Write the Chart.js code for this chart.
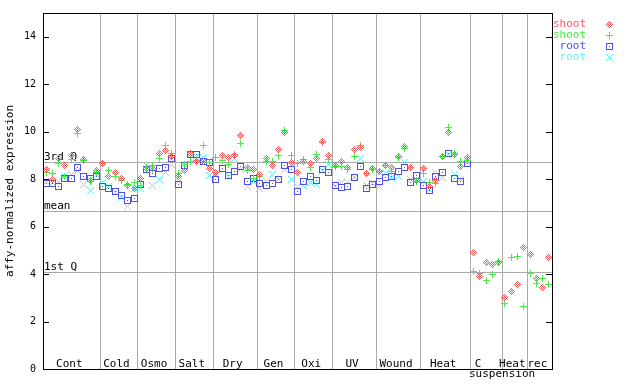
<!DOCTYPE html>
<html lang="en">
<head>
<meta charset="UTF-8">
<title>affy-normalized expression</title>
<script src="https://cdn.jsdelivr.net/npm/chart.js"></script>
<style>
  body { margin: 0; background: #ffffff; }
  #wrap { width: 640px; height: 384px; }
</style>
</head>
<body>
<div id="wrap"><canvas id="chart" width="640" height="384"></canvas></div>
<script>
// treatment groups and number of samples in each
const groups = ["Cont", "Cold", "Osmo", "Salt", "Dry", "Gen", "Oxi", "UV", "Wound", "Heat", "C", "Heat", "rec"];
const groupSizes = [9, 6, 6, 6, 7, 6, 6, 7, 7, 8, 5, 4, 4];

const shoot1 = [8.39, 7.99, 8.87, 8.59, 8.98, 10.11, 8.84, 7.95, 8.37,
  8.67, 8.13, 8.30, 8.02, 7.75, 7.61,
  8.02, 8.45, 8.45, 9.09, 9.22, 8.95,
  8.11, 8.37, 9.08, 8.75, 8.74, 8.45,
  8.28, 9.01, 8.91, 8.98, 9.85, 8.49, 8.39,
  8.20, 8.87, 8.59, 9.26, 9.97, 8.70,
  8.30, 8.75, 8.67, 8.87, 9.57, 9.01,
  8.59, 8.73, 8.49, 9.23, 9.33, 8.25, 8.45,
  8.32, 8.59, 8.49, 8.95, 9.37, 8.49, 7.96,
  8.45, 7.70, 7.95, 8.95, 9.97, 9.05, 8.53, 8.91,
  4.89, 3.88, 4.47, 4.40, 4.47,
  3.03, 3.26, 3.55, 5.10,
  4.82, 3.83, 3.45, 4.68];
const shoot2 = [8.30, 8.23, 8.67, 8.09, 8.81, 9.92, 8.80, 7.92, 8.28,
  8.67, 8.37, 8.13, 7.95, 7.78, 7.85,
  7.75, 8.50, 8.59, 8.87, 9.43, 9.08,
  8.23, 8.60, 8.73, 8.77, 9.43, 8.70,
  8.91, 8.80, 8.60, 9.05, 9.52, 8.37, 8.02,
  8.11, 8.73, 8.73, 9.01, 10.04, 9.01,
  8.67, 8.84, 8.49, 9.05, 9.54, 8.81,
  8.53, 8.53, 8.42, 8.95, 9.40, 8.25, 8.42,
  8.32, 8.56, 8.32, 8.90, 9.29, 8.49, 7.88,
  8.25, 7.85, 7.82, 8.95, 10.18, 9.08, 8.73, 8.80,
  4.12, 4.02, 3.73, 3.97, 4.51,
  2.78, 4.68, 4.72, 2.64,
  4.02, 3.62, 3.83, 3.55];
const root1 = [7.83, 7.83, 7.68, 8.02, 8.02, 8.47, 8.11, 8.02, 8.11,
  7.68, 7.61, 7.50, 7.29, 7.11, 7.18,
  7.78, 8.39, 8.25, 8.45, 8.49, 8.87,
  7.78, 8.59, 9.02, 9.02, 8.74, 8.70,
  7.99, 8.45, 8.16, 8.32, 8.53, 7.91, 8.02,
  7.81, 7.75, 7.83, 7.99, 8.59, 8.39,
  7.50, 7.92, 8.11, 7.95, 8.39, 8.28,
  7.75, 7.64, 7.71, 8.06, 8.53, 7.60, 7.78,
  7.88, 8.06, 8.13, 8.32, 8.49, 7.85, 8.16,
  7.74, 7.53, 8.11, 8.30, 9.08, 8.02, 7.92, 8.66,
  null, null, null, null, null,
  null, null, null, null,
  null, null, null, null];
const root2 = [7.90, 7.85, 7.90, 8.13, 8.20, 8.35, 7.78, 7.53, 8.20,
  7.85, 7.71, 7.43, 7.22, 6.84, 7.60,
  7.60, 8.56, 7.74, 7.99, 8.30, 8.63,
  7.90, 8.50, 9.05, 8.95, 8.90, 8.16,
  8.20, 8.75, 8.10, 8.85, 8.40, 7.71, 7.92,
  7.60, 7.92, 8.20, 8.00, 8.39, 7.99,
  7.70, 7.74, 7.85, 7.78, 8.35, 8.63,
  7.71, 7.85, 7.85, 8.06, 8.87, 7.75, 7.80,
  7.71, 8.23, 8.06, 8.11, 8.70, 7.99, 8.00,
  7.90, 7.57, 8.30, 8.06, 9.05, 8.20, 7.99, 8.70,
  null, null, null, null, null,
  null, null, null, null,
  null, null, null, null];

const q3 = 8.71, mean = 6.64, q1 = 4.08;
const yTicks = [0, 2, 4, 6, 8, 10, 12, 14];

const FONT = '"DejaVu Sans Mono", monospace';
const nSamples = groupSizes.reduce((a, b) => a + b, 0);

// little pixel markers like the original
function marker(rows, color) {
  const c = document.createElement("canvas");
  c.width = rows[0].length; c.height = rows.length;
  const g = c.getContext("2d");
  g.fillStyle = color;
  rows.forEach((r, y) => { for (let x = 0; x < r.length; x++) if (r[x] === "x") g.fillRect(x, y, 1, 1); });
  return c;
}
const RED = "#ff5555", GREEN = "#44ee44", BLUE = "#4f4fee", CYAN = "#66f0f0";
const mDiamond = marker(["...x...", "..x.x..", ".x.x.x.", "x.x.x.x", ".x.x.x.", "..x.x..", "...x..."], RED);
const mPlus = marker(["...x...", "...x...", "...x...", "xxxxxxx", "...x...", "...x...", "...x..."], GREEN);
const mSquare = marker(["xxxxxxx", "x.....x", "x.....x", "x..x..x", "x.....x", "x.....x", "xxxxxxx"], BLUE);
const mCross = marker(["x.....x", ".x...x.", "..x.x..", "...x...", "..x.x..", ".x...x.", "x.....x"], CYAN);

const toPts = arr => arr.map((v, i) => v === null ? null : { x: i + 0.5, y: v }).filter(p => p);

const series = [
  { label: "shoot", data: toPts(shoot1), style: mDiamond, color: RED },
  { label: "shoot", data: toPts(shoot2), style: mPlus, color: GREEN },
  { label: "root", data: toPts(root1), style: mSquare, color: BLUE },
  { label: "root", data: toPts(root2), style: mCross, color: CYAN }
];

const decor = {
  id: "decor",
  beforeDatasetsDraw(chart) {
    const { ctx, chartArea: a, scales: { x, y } } = chart;
    ctx.save();
    ctx.strokeStyle = "#aaaaaa";
    ctx.lineWidth = 1;
    let acc = 0;
    groupSizes.slice(0, -1).forEach(n => {
      acc += n;
      const px = Math.round(x.getPixelForValue(acc)) + 0.5;
      ctx.beginPath(); ctx.moveTo(px, a.top); ctx.lineTo(px, a.bottom); ctx.stroke();
    });
    ctx.font = "11px " + FONT;
    ctx.fillStyle = "#000";
    ctx.textBaseline = "bottom";
    [[q3, "3rd Q"], [mean, "mean"], [q1, "1st Q"]].forEach(([v, t]) => {
      const py = Math.round(y.getPixelForValue(v)) + 0.5;
      ctx.beginPath(); ctx.moveTo(a.left, py); ctx.lineTo(a.right, py); ctx.stroke();
      ctx.fillText(t, a.left + 1, py);
    });
    ctx.restore();
    // keep the pixel markers crisp
    ctx.imageSmoothingEnabled = false;
  },
  afterDraw(chart) {
    const { ctx, chartArea: a, scales: { x, y } } = chart;
    ctx.save();
    ctx.strokeStyle = "#000";
    ctx.lineWidth = 1;
    ctx.strokeRect(Math.round(a.left) + 0.5, Math.round(a.top) + 0.5, Math.round(a.right - a.left), Math.round(a.bottom - a.top));
    yTicks.forEach(v => {
      const py = Math.round(y.getPixelForValue(v)) + 0.5;
      ctx.beginPath();
      ctx.moveTo(a.left, py); ctx.lineTo(a.left + 6, py);
      ctx.moveTo(a.right - 6, py); ctx.lineTo(a.right, py);
      ctx.stroke();
    });
    // group labels
    ctx.font = "11px " + FONT;
    ctx.fillStyle = "#000";
    ctx.textAlign = "center";
    ctx.textBaseline = "alphabetic";
    let acc = 0;
    groups.forEach((g, i) => {
      const mid = x.getPixelForValue(acc + groupSizes[i] / 2);
      acc += groupSizes[i];
      if (g === "C") {
        ctx.fillText("C", mid - 8, 367);
        ctx.fillText("suspension", mid + 16, 377);
      } else {
        ctx.fillText(g, mid - 2, 367);
      }
    });
    // y title
    ctx.save();
    ctx.translate(13, (a.top + a.bottom) / 2);
    ctx.rotate(-Math.PI / 2);
    ctx.fillText("affy-normalized expression", 0, 0);
    ctx.restore();
    // legend
    ctx.textAlign = "right";
    ctx.textBaseline = "middle";
    ctx.imageSmoothingEnabled = false;
    series.forEach((s, i) => {
      const ly = 24 + i * 11;
      ctx.fillStyle = s.color;
      ctx.fillText(s.label, 586, ly);
      ctx.drawImage(s.style, 606, ly - 3);
    });
    ctx.restore();
  }
};

new Chart(document.getElementById("chart"), {
  type: "scatter",
  data: {
    datasets: series.map(s => ({
      label: s.label,
      data: s.data,
      pointStyle: s.style,
      pointRadius: 3.5,
      borderColor: s.color,
      backgroundColor: s.color
    }))
  },
  options: {
    responsive: false,
    animation: false,
    devicePixelRatio: 1,
    layout: { padding: { left: 0, right: 88, top: 13, bottom: 15 } },
    plugins: { legend: { display: false }, tooltip: { enabled: false } },
    scales: {
      x: { type: "linear", min: 0, max: nSamples, display: false },
      y: {
        min: 0, max: 15,
        afterFit: s => { s.width = 43; },
        afterBuildTicks: s => { s.ticks = yTicks.map(v => ({ value: v })); },
        grid: { display: false, drawTicks: false },
        border: { display: false },
        ticks: { padding: 7, color: "#000", font: { family: FONT, size: 10 } }
      }
    }
  },
  plugins: [decor]
});
</script>
</body>
</html>
